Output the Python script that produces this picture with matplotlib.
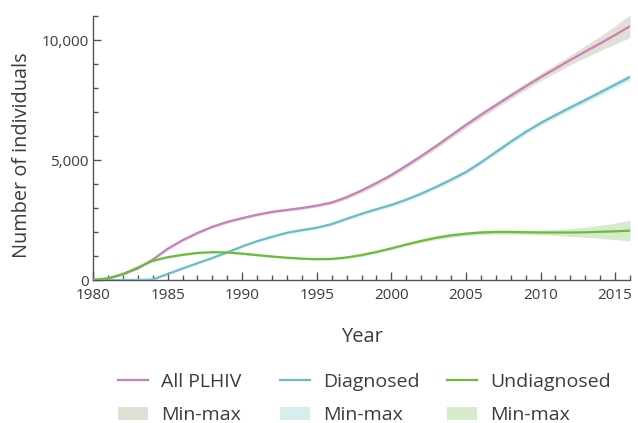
import matplotlib
matplotlib.use("Agg")
import matplotlib.pyplot as plt
from matplotlib.lines import Line2D
from matplotlib.patches import Patch
from matplotlib.ticker import MultipleLocator, FuncFormatter
import numpy as np

years = list(range(1980, 2017))
all_plhiv = [0, 60, 230, 480, 850, 1300, 1660, 1960, 2220, 2420, 2580, 2720, 2840, 2920,
             3000, 3100, 3230, 3450, 3730, 4040, 4375, 4760, 5160, 5580, 6020, 6460, 6880,
             7280, 7680, 8070, 8450, 8810, 9170, 9520, 9860, 10210, 10580]
diagnosed = [0, 0, 0, 0, 20, 250, 480, 700, 920, 1150, 1400, 1620, 1800, 1970,
             2080, 2180, 2330, 2550, 2760, 2950, 3130, 3350, 3600, 3880, 4180, 4500, 4900,
             5330, 5760, 6170, 6540, 6870, 7190, 7500, 7820, 8140, 8460]
undiagnosed = [0, 70, 250, 520, 800, 950, 1050, 1130, 1160, 1150, 1100, 1040, 980, 930,
               890, 870, 880, 940, 1040, 1170, 1320, 1480, 1630, 1760, 1860, 1930, 1980,
               2000, 2000, 1990, 1980, 1980, 1980, 1990, 2010, 2030, 2060]
# half-width of min-max range
all_spread = [0, 5, 15, 30, 50, 60, 60, 60, 60, 60, 60, 60, 60, 60,
              60, 65, 70, 80, 90, 100, 100, 105, 110, 115, 120, 120, 125,
              130, 135, 140, 150, 170, 200, 250, 300, 380, 480]
diag_spread = [0, 0, 0, 0, 10, 30, 40, 40, 40, 40, 40, 45, 50, 50,
               55, 60, 60, 65, 70, 70, 75, 80, 80, 85, 90, 90, 95,
               100, 100, 100, 100, 105, 110, 115, 120, 125, 130]
undiag_spread = [0, 5, 15, 30, 40, 40, 40, 40, 40, 40, 40, 40, 40, 40,
                 40, 40, 45, 50, 55, 60, 60, 65, 70, 75, 80, 80, 85,
                 90, 90, 95, 100, 120, 160, 210, 270, 340, 440]

series_labels = ["All PLHIV", "Diagnosed", "Undiagnosed"]
band_label = "Min-max"
line_colors = ["#c97fbb", "#6bbcc8", "#6cbb3c"]
band_colors = ["#e2e0d4", "#d6eeee", "#d6ebca"]

plt.rcParams['font.family'] = ['Open Sans', 'DejaVu Sans']
text_col = "#3c3c3c"

fig = plt.figure(figsize=(6.38, 4.23), dpi=100)
ax = fig.add_axes([0.1458, 0.338, 0.8417, 0.624])

x = np.array(years)
data = [np.array(all_plhiv), np.array(diagnosed), np.array(undiagnosed)]
spreads = [np.array(all_spread), np.array(diag_spread), np.array(undiag_spread)]

for d, s, bc in zip(data, spreads, band_colors):
    ax.fill_between(x, np.maximum(d - s, 0), d + s, color=bc, lw=0, zorder=1)
for d, lc in zip(data, line_colors):
    ax.plot(x, d, color=lc, lw=1.6, zorder=3, solid_capstyle='butt')

ax.set_xlim(1980, 2016)
ax.set_ylim(0, 11000)
ax.xaxis.set_major_locator(MultipleLocator(5))
ax.xaxis.set_minor_locator(MultipleLocator(1))
ax.yaxis.set_major_locator(MultipleLocator(5000))
ax.yaxis.set_minor_locator(MultipleLocator(1000))
ax.yaxis.set_major_formatter(FuncFormatter(lambda v, p: f"{int(v):,}"))

for sp in ['top', 'right']:
    ax.spines[sp].set_visible(False)
for sp in ['left', 'bottom']:
    ax.spines[sp].set_color("#555555")
    ax.spines[sp].set_linewidth(1.0)

ax.tick_params(which='major', direction='in', length=6, width=1, color="#555555",
               labelsize=11, labelcolor=text_col)
ax.tick_params(which='minor', direction='in', length=3.5, width=1, color="#555555")
ax.tick_params(axis='x', pad=6)
ax.tick_params(axis='y', pad=3)

ax.set_xlabel("Year", fontsize=14.5, color=text_col, labelpad=17)
ax.set_ylabel("Number of individuals", fontsize=14.3, color=text_col)
ax.yaxis.set_label_coords(-0.114, 0.4735)

col_x = [118 / 638, 280 / 638, 447 / 638]
for lc, bc, lab, cx in zip(line_colors, band_colors, series_labels, col_x):
    h = [Line2D([], [], color=lc, lw=1.6), Patch(facecolor=bc, edgecolor='none')]
    fig.legend(h, [lab, band_label], loc='center left', bbox_to_anchor=(cx, 0.058),
               ncol=1, frameon=False, fontsize=14, handlelength=1.54,
               handleheight=0.62, labelspacing=0.78, handletextpad=0.67,
               borderpad=0, borderaxespad=0, labelcolor=text_col)

fig.savefig("out.png", dpi=100)
